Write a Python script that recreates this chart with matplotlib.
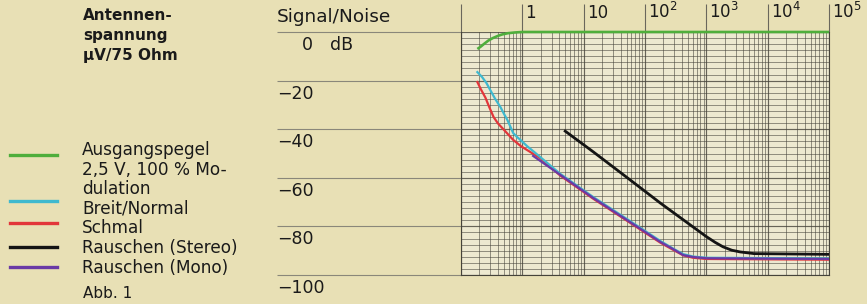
import matplotlib
matplotlib.use("Agg")
import matplotlib.pyplot as plt
from matplotlib.ticker import LogLocator, NullFormatter, FixedLocator

# ---------------- data ----------------
decades = [0.1, 1, 10, 100, 1000, 10000, 100000]
decade_labels = ["", "1", "10", r"$10^2$", r"$10^3$", r"$10^4$", r"$10^5$"]
db_ticks = [0, -20, -40, -60, -80, -100]
db_labels = ["0", "−20", "−40", "−60", "−80", "−100"]

x_gain = [0.185, 0.21, 0.24, 0.28, 0.33, 0.40, 0.47, 0.58, 0.75, 1.0, 1e5]
y_gain = [-7.0, -6.0, -4.8, -3.5, -2.5, -1.6, -1.0, -0.5, -0.2, 0.0, 0.0]

x_breit = [0.185, 0.22, 0.26, 0.30, 0.36, 0.44, 0.50, 0.57, 0.64, 0.71, 0.82, 0.93, 1.2, 1.6,
           4.16, 14.3, 51, 178, 300, 419, 606, 1000, 1e5]
y_breit = [-16.5, -18.5, -21.0, -23.9, -27.5, -30.9, -33.6, -36.2, -39.0, -41.6, -43.2, -44.4,
           -47.0, -49.6, -58.4, -67.9, -77.0, -86.0, -89.4, -91.4, -92.4, -92.9, -93.2]

x_schmal = [0.185, 0.21, 0.25, 0.29, 0.34, 0.40, 0.47, 0.57, 0.71, 0.95, 1.35, 1.96,
            4.16, 14.3, 51, 178, 300, 419, 606, 1000, 1e5]
y_schmal = [-20.6, -23.5, -27.0, -31.0, -35.0, -37.6, -39.5, -41.8, -44.4, -47.0, -49.4, -51.9,
            -59.1, -68.6, -77.7, -86.7, -89.9, -91.9, -92.9, -93.4, -93.7]

x_stereo = [5.0, 14.3, 51, 178, 606, 1000, 1400, 1870, 2600, 3550, 6000, 1e5]
y_stereo = [-40.8, -49.3, -59.9, -70.4, -80.2, -84.2, -86.6, -88.4, -89.8, -90.5, -91.2, -91.5]

x_mono = [1.5, 4.16, 14.3, 51, 178, 300, 419, 606, 1000, 1e5]
y_mono = [-51.0, -58.8, -68.3, -77.4, -86.4, -89.6, -91.8, -92.6, -93.1, -93.4]

legend_lines = ["Ausgangspegel", "2,5 V, 100 % Mo-", "dulation", "Breit/Normal", "Schmal",
                "Rauschen (Stereo)", "Rauschen (Mono)"]
header_lines = ["Antennen-", "spannung", "µV/75 Ohm"]

# ---------------- styling ----------------
C_GREEN = "#4fae3c"
C_CYAN = "#3fb9cf"
C_RED = "#e2363a"
C_BLACK = "#141414"
C_PURPLE = "#6a3aa6"
GRID = "#45433a"
PAPER = "#e8e0b5"

W, H = 867, 304
fig = plt.figure(figsize=(W / 100, H / 100), dpi=100)
fig.patch.set_facecolor(PAPER)

def fx(px):
    return px / W

def fy(py):
    return 1 - py / H

left, right, top, bottom = 461, 829, 32, 275
ax = fig.add_axes([fx(left), fy(bottom), (right - left) / W, (bottom - top) / H])
ax.set_xscale("log")
ax.set_xlim(decades[0], decades[-1])
ax.set_ylim(-100, 0)
ax.set_facecolor("#ede9d0")

ax.xaxis.set_major_locator(FixedLocator(decades))
ax.xaxis.set_minor_locator(LogLocator(base=10, subs=range(2, 10), numticks=20))
ax.xaxis.set_major_formatter(NullFormatter())
ax.xaxis.set_minor_formatter(NullFormatter())
ax.yaxis.set_major_locator(FixedLocator(db_ticks))
ax.yaxis.set_minor_locator(FixedLocator([-2.5 * i for i in range(41)]))
ax.yaxis.set_major_formatter(NullFormatter())

ax.grid(which="minor", color=GRID, lw=0.65, alpha=0.6)
ax.grid(which="major", color=GRID, lw=0.85, alpha=0.8)
for s in ax.spines.values():
    s.set_color(GRID)
    s.set_linewidth(0.8)
ax.spines["top"].set_visible(False)

ax.tick_params(which="minor", length=0)
ax.tick_params(axis="x", which="major", bottom=False, top=True, direction="out",
               length=(top - 4) * 0.72, width=0.8, color="#6a675c")
ax.tick_params(axis="y", which="major", left=True, direction="out",
               length=(left - 277) * 0.72, width=0.8, color="#8a877a")

# curves
ax.plot(x_gain, y_gain, color=C_GREEN, lw=1.9, solid_capstyle="butt", zorder=5, clip_on=False)
ax.plot(x_schmal, y_schmal, color=C_RED, lw=1.6, zorder=4)
ax.plot(x_breit, y_breit, color=C_CYAN, lw=1.6, zorder=4)
ax.plot(x_mono, y_mono, color=C_PURPLE, lw=1.6, zorder=6)
ax.plot(x_stereo, y_stereo, color=C_BLACK, lw=2.0, zorder=6)

# top decade labels
for d, lab in zip(decades, decade_labels):
    if lab:
        ax.annotate(lab, xy=(d, 1), xycoords=("data", "axes fraction"),
                    xytext=(3 * 0.72, (top - 18) * 0.72), textcoords="offset points",
                    ha="left", va="baseline", fontsize=12, color="#1a1a1a",
                    annotation_clip=False)

# y labels
for v, lab in zip(db_ticks, db_labels):
    xoff = (302 - left) if v == 0 else (277 - left)
    ax.annotate(lab, xy=(0, v), xycoords=("axes fraction", "data"),
                xytext=(xoff * 0.72, -18 * 0.72), textcoords="offset points",
                ha="left", va="baseline", fontsize=12.5, color="#1a1a1a",
                annotation_clip=False)
ax.annotate("dB", xy=(0, 0), xycoords=("axes fraction", "data"),
            xytext=((330 - left) * 0.72, -18 * 0.72), textcoords="offset points",
            ha="left", va="baseline", fontsize=12.5, color="#1a1a1a", annotation_clip=False)

fig.text(fx(277), fy(22), "Signal/Noise", fontsize=13.3, color="#1a1a1a", va="baseline", ha="left")

# header
for i, t in enumerate(header_lines):
    fig.text(fx(83), fy(20 + 20 * i), t, fontsize=11, fontweight="bold", color="#1a1a1a",
             va="baseline", ha="left")

# legend text
for i, t in enumerate(legend_lines):
    fig.text(fx(82), fy(155 + 19.6 * i), t, fontsize=12.2, color="#1a1a1a",
             va="baseline", ha="left")
fig.text(fx(83), fy(298), "Abb. 1", fontsize=11, color="#1a1a1a", va="baseline", ha="left")

# legend samples
for yy, c in [(155, C_GREEN), (201, C_CYAN), (223, C_RED), (247, C_BLACK), (267, C_PURPLE)]:
    fig.add_artist(plt.Line2D([fx(10), fx(57)], [fy(yy), fy(yy)], color=c, lw=2.4,
                              transform=fig.transFigure))

fig.savefig("out.png", dpi=100, facecolor=PAPER)
